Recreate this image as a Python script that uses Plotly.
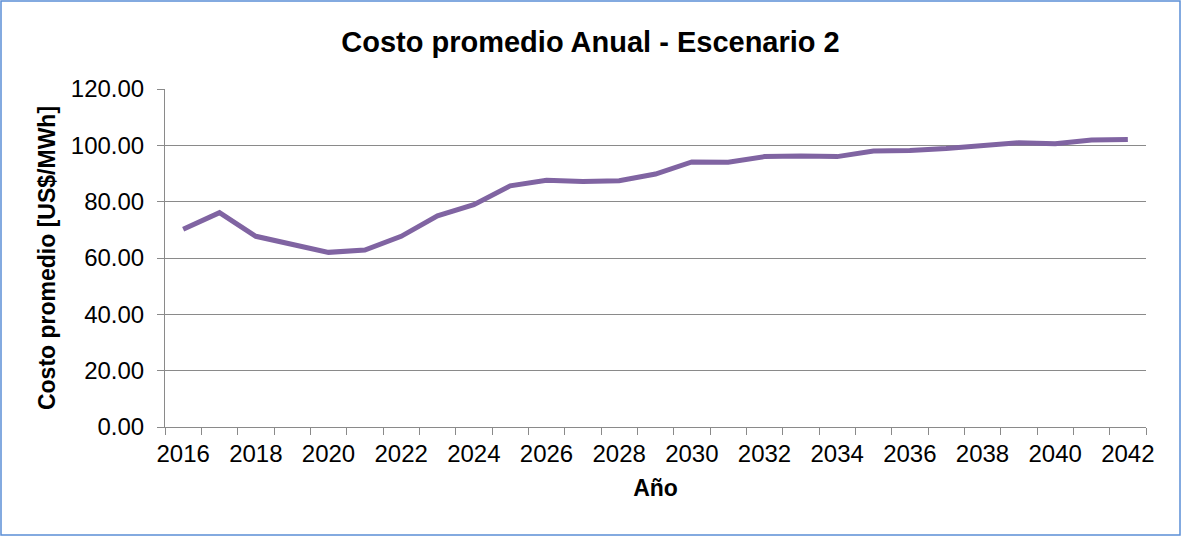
"""
Costo promedio anual - Escenario 2
"""

import plotly.graph_objects as go

# datos
anios = list(range(2016, 2043))
costo = [70.2, 76.1, 67.7, 65.0, 62.0, 62.8, 67.7, 75.0, 78.9, 85.6,
         87.6, 87.2, 87.4, 89.8, 94.1, 94.0, 96.0, 96.2, 96.0, 98.0,
         98.2, 98.9, 100.1, 100.9, 100.6, 101.9, 102.1]
etiquetas_x = [a for a in anios if a % 2 == 0]
ticks_y = [0, 20, 40, 60, 80, 100, 120]

W, H = 1181, 536
M_L, M_R, M_T, M_B = 165, 35, 89, 109
GRIS = '#8a8a8a'
FUENTE = 'Liberation Sans, Arial, sans-serif'

fig = go.Figure()
fig.add_trace(go.Scatter(
    x=anios,
    y=costo,
    mode='lines',
    name='Costo promedio',
    line=dict(color='#8064A2', width=5)
))

pw = W - M_L - M_R
ph = H - M_T - M_B

fig.update_layout(
    width=W,
    height=H,
    margin=dict(l=M_L, r=M_R, t=M_T, b=M_B),
    paper_bgcolor='white',
    plot_bgcolor='white',
    showlegend=False,
    font=dict(family=FUENTE, color='black', size=24),
    title=dict(
        text='<b>Costo promedio Anual - Escenario 2</b>',
        font=dict(size=29, color='black'),
        x=0.5, xanchor='center', xref='container',
        y=0.922, yanchor='middle', yref='container'
    ),
    xaxis=dict(
        range=[2015.5, 2042.5],
        tickmode='array',
        tickvals=etiquetas_x,
        ticks='',
        ticklabelstandoff=5,
        showgrid=False,
        showline=True,
        linecolor=GRIS,
        linewidth=1,
        zeroline=False,
        minor=dict(ticks='outside', ticklen=7, tickcolor=GRIS, tickwidth=1,
                   tick0=2015.5, dtick=1, showgrid=False),
        title=dict(text='<b>Año</b>', font=dict(size=23), standoff=14)
    ),
    yaxis=dict(
        range=[0, 120],
        tickmode='array',
        tickvals=ticks_y,
        tickformat='.2f',
        ticks='outside',
        ticklen=7,
        tickcolor=GRIS,
        ticklabelstandoff=8,
        showgrid=True,
        gridcolor=GRIS,
        gridwidth=1,
        showline=True,
        linecolor=GRIS,
        linewidth=1,
        zeroline=False,
        title=dict(text='<b>Costo promedio [US$/MWh]</b>', font=dict(size=23), standoff=8)
    ),
    shapes=[dict(
        type='rect', xref='paper', yref='paper',
        x0=(-M_L + 1) / pw, x1=(pw + M_R - 1) / pw,
        y0=(-M_B + 1) / ph, y1=(ph + M_T - 1) / ph,
        line=dict(color='#5B8FD6', width=1.5),
        fillcolor='rgba(0,0,0,0)', layer='below'
    )]
)

# quitar el margen del body para que la figura ocupe la ventana
fig.write_html("out.html", config={'displayModeBar': False},
               post_script="document.body.style.margin='0';")
